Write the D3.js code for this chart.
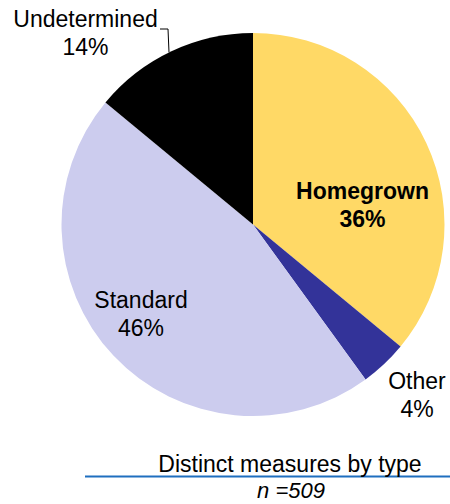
<!DOCTYPE html>
<html>
<head>
<meta charset="utf-8">
<script src="https://cdn.jsdelivr.net/npm/d3@7"></script>
<style>
  html, body { margin: 0; padding: 0; background: #fff; }
  svg { display: block; }
  text { font-family: "Liberation Sans", Arial, sans-serif; fill: #000; }
</style>
</head>
<body>
<svg id="chart" width="450" height="504"></svg>
<script>
// Share of distinct measures by type (percent)
const categories = ["Homegrown", "Other", "Standard", "Undetermined"];
const shares = [36, 4, 46, 14];
const sliceColors = ["#FFD966", "#333399", "#CCCCEE", "#000000"];
const chartTitle = "Distinct measures by type";
const sampleNote = "n =509";

const width = 450, height = 504;
const cx = 253, cy = 224.5, radius = 191.5;

const svg = d3.select("#chart");

const pie = d3.pie().sort(null).value(d => d.value);
const arcs = pie(categories.map((c, i) => ({ name: c, value: shares[i] })));
const arc = d3.arc().innerRadius(0).outerRadius(radius);
const color = d3.scaleOrdinal().domain(categories).range(sliceColors);

const g = svg.append("g").attr("transform", `translate(${cx},${cy})`);
g.selectAll("path.slice")
  .data(arcs)
  .join("path")
  .attr("class", "slice")
  .attr("d", arc)
  .attr("fill", d => color(d.data.name));

// Label placement per category (offset from pie centre)
const labelPos = {
  Homegrown:    { x: 109.5, y: -25.5, bold: true },
  Other:        { x: 164,   y: 164.5, bold: false },
  Standard:     { x: -112,  y: 83.5,  bold: false },
  Undetermined: { x: -167.5, y: -197.5, bold: false }
};
const fontSize = 23;

arcs.forEach(d => {
  const p = labelPos[d.data.name];
  const t = g.append("text")
    .attr("x", p.x).attr("y", p.y)
    .attr("text-anchor", "middle")
    .style("font-size", fontSize + "px")
    .style("font-weight", p.bold ? "bold" : "normal");
  t.append("tspan").attr("x", p.x).attr("dy", 0).text(d.data.name);
  t.append("tspan").attr("x", p.x).attr("dy", 28).text(d.data.value + "%");
});

// Leader line from the Undetermined label to its slice edge
const edgeX = -84;
const edgeY = -Math.sqrt(radius * radius - edgeX * edgeX);
g.append("path")
  .attr("d", `M${-93},${-195.5} H${-85} L${edgeX},${edgeY}`)
  .attr("fill", "none")
  .attr("stroke", "#000")
  .attr("stroke-width", 1);

// Caption with rule
svg.append("line")
  .attr("x1", 85).attr("x2", 450)
  .attr("y1", 476.5).attr("y2", 476.5)
  .attr("stroke", "#1F6FBF").attr("stroke-width", 2);
svg.append("text")
  .attr("x", 290).attr("y", 472)
  .attr("text-anchor", "middle")
  .style("font-size", "23px")
  .text(chartTitle);
svg.append("text")
  .attr("x", 291).attr("y", 498)
  .attr("text-anchor", "middle")
  .style("font-size", "22px")
  .style("font-style", "italic")
  .text(sampleNote);
</script>
</body>
</html>
